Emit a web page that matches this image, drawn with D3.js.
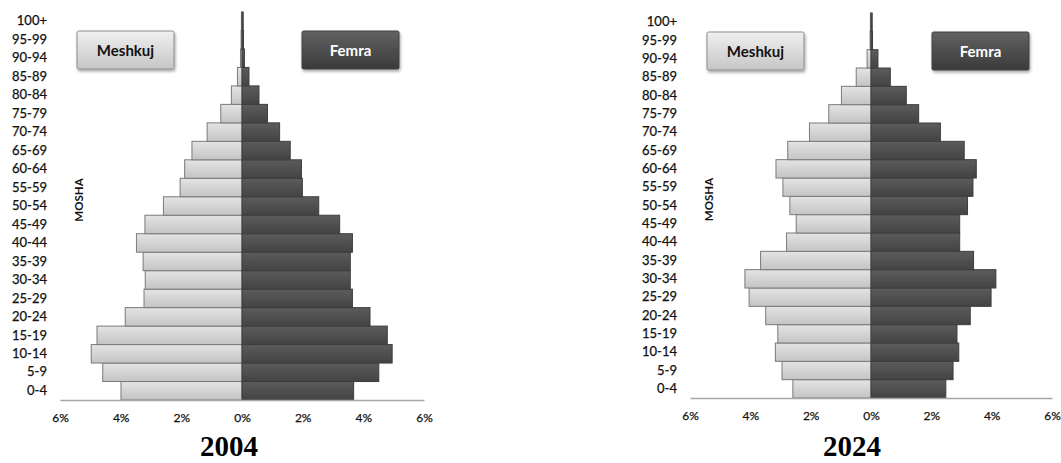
<!DOCTYPE html>
<html>
<head>
<meta charset="utf-8">
<script src="https://cdn.jsdelivr.net/npm/d3@7"></script>
<style>
  body { margin: 0; background: #fff; }
  svg { display: block; }
</style>
</head>
<body>
<script>
// grupmoshat, nga poshte lart
const ageGroups = ["0-4", "5-9", "10-14", "15-19", "20-24", "25-29", "30-34", "35-39",
  "40-44", "45-49", "50-54", "55-59", "60-64", "65-69", "70-74", "75-79",
  "80-84", "85-89", "90-94", "95-99", "100+"];

// perqindje e popullsise
const male2004 = [3.99, 4.59, 4.97, 4.78, 3.85, 3.23, 3.19, 3.26, 3.48, 3.20, 2.59, 2.04,
  1.89, 1.65, 1.15, 0.70, 0.35, 0.15, 0.05, 0.03, 0.02];
const female2004 = [3.68, 4.51, 4.95, 4.79, 4.22, 3.64, 3.57, 3.57, 3.64, 3.22, 2.53, 1.99,
  1.96, 1.59, 1.24, 0.84, 0.56, 0.23, 0.08, 0.05, 0.04];
const male2024 = [2.59, 2.95, 3.17, 3.09, 3.49, 4.04, 4.18, 3.66, 2.80, 2.48, 2.69, 2.92,
  3.15, 2.76, 2.04, 1.40, 0.98, 0.49, 0.13, 0.03, 0.02];
const female2024 = [2.48, 2.72, 2.91, 2.85, 3.29, 3.98, 4.14, 3.40, 2.94, 2.94, 3.20, 3.38,
  3.49, 3.09, 2.30, 1.58, 1.17, 0.64, 0.23, 0.05, 0.04];

const xTicks = [-6, -4, -2, 0, 2, 4, 6];
const years = ["2004", "2024"];
const seriesNames = ["Meshkuj", "Femra"];

const width = 1061;
const height = 463;

const svg = d3.select("body").append("svg")
  .attr("width", width)
  .attr("height", height);

const defs = svg.append("defs");

function vGrad(id, top, bottom) {
  const g = defs.append("linearGradient").attr("id", id)
    .attr("x1", 0).attr("y1", 0).attr("x2", 0).attr("y2", 1);
  g.append("stop").attr("offset", "0%").attr("stop-color", top);
  g.append("stop").attr("offset", "100%").attr("stop-color", bottom);
}
vGrad("gMale", "#e4e4e4", "#c4c4c4");
vGrad("gFemale", "#5c5c5c", "#434343");
vGrad("gMaleBox", "#f0f0f0", "#c6c6c6");
vGrad("gFemaleBox", "#626262", "#3a3a3a");

const shadow = defs.append("filter").attr("id", "shadow")
  .attr("x", "-20%").attr("y", "-20%").attr("width", "140%").attr("height", "160%");
shadow.append("feDropShadow")
  .attr("dx", 1).attr("dy", 2).attr("stdDeviation", 1.5)
  .attr("flood-color", "#000").attr("flood-opacity", 0.35);

const panels = [
  { year: years[0], male: male2004, female: female2004, x0: 60, x1: 424, yBottom: 400, yTop: 12, titleX: 229 },
  { year: years[1], male: male2024, female: female2024, x0: 690, x1: 1052, yBottom: 398, yTop: 13, titleX: 852 }
];

const font = "Lato, 'Open Sans', sans-serif";

panels.forEach(p => {
  const g = svg.append("g");

  const x = d3.scaleLinear().domain([-6, 6]).range([p.x0, p.x1]);
  const y = d3.scaleBand().domain(ageGroups).range([p.yBottom, p.yTop]).padding(0);

  const rows = ageGroups.map((a, i) => ({ age: a, m: p.male[i], f: p.female[i] }));

  // meshkuj
  g.append("g").selectAll("rect")
    .data(rows)
    .join("rect")
    .attr("x", d => x(-d.m))
    .attr("y", d => y(d.age))
    .attr("width", d => x(0) - x(-d.m))
    .attr("height", y.bandwidth())
    .attr("fill", "url(#gMale)")
    .attr("stroke", "#7a7a7a")
    .attr("stroke-width", 1);

  // femra
  g.append("g").selectAll("rect")
    .data(rows)
    .join("rect")
    .attr("x", x(0))
    .attr("y", d => y(d.age))
    .attr("width", d => x(d.f) - x(0))
    .attr("height", y.bandwidth())
    .attr("fill", "url(#gFemale)")
    .attr("stroke", "#3e3e3e")
    .attr("stroke-width", 1);

  // boshti X
  const xAxis = d3.axisBottom(x)
    .tickValues(xTicks)
    .tickSize(0)
    .tickPadding(13)
    .tickFormat(d => Math.abs(d) + "%");
  const ax = g.append("g")
    .attr("transform", `translate(0,${p.yBottom})`)
    .call(xAxis);
  ax.select(".domain").attr("stroke", "#a6a6a6").attr("stroke-width", 1.5);
  ax.selectAll("text")
    .attr("font-family", font)
    .attr("font-size", 12)
    .attr("fill", "#111")
    .attr("stroke", "#111")
    .attr("stroke-width", 0.25);

  // boshti Y
  const yAxis = d3.axisLeft(y).tickSize(0).tickPadding(0);
  const ay = g.append("g")
    .attr("transform", `translate(${p.x0 - 13},0)`)
    .call(yAxis);
  ay.select(".domain").remove();
  ay.selectAll("text")
    .attr("font-family", font)
    .attr("font-size", 13)
    .attr("fill", "#111")
    .attr("stroke", "#111")
    .attr("stroke-width", 0.25);

  // MOSHA
  g.append("text")
    .attr("transform", `translate(${p.x0 + 23},${(p.yTop + p.yBottom) / 2 - 6}) rotate(-90)`)
    .attr("text-anchor", "middle")
    .attr("font-family", font)
    .attr("font-size", 11.5)
    .attr("font-weight", "bold")
    .attr("fill", "#111")
    .text("MOSHA");

  // legjenda
  const boxes = [
    { name: seriesNames[0], bx: p.x0 + 17, fill: "url(#gMaleBox)", stroke: "#8c8c8c", color: "#111" },
    { name: seriesNames[1], bx: p.x0 + 242, fill: "url(#gFemaleBox)", stroke: "#404040", color: "#fff" }
  ];
  const lg = g.selectAll("g.legend")
    .data(boxes)
    .join("g")
    .attr("class", "legend")
    .attr("transform", d => `translate(${d.bx},${p.yTop + 19})`);
  lg.append("rect")
    .attr("width", 97)
    .attr("height", 38)
    .attr("rx", 1.5)
    .attr("fill", d => d.fill)
    .attr("stroke", d => d.stroke)
    .attr("stroke-width", 1)
    .attr("filter", "url(#shadow)");
  lg.append("text")
    .attr("x", 48.5)
    .attr("y", 24.5)
    .attr("text-anchor", "middle")
    .attr("font-family", font)
    .attr("font-size", 15)
    .attr("font-weight", "bold")
    .attr("fill", d => d.color)
    .text(d => d.name);

  // viti
  g.append("text")
    .attr("x", p.titleX)
    .attr("y", 456)
    .attr("text-anchor", "middle")
    .attr("font-family", "'Liberation Serif', 'Times New Roman', serif")
    .attr("font-size", 29)
    .attr("font-weight", "bold")
    .attr("fill", "#000")
    .text(p.year);
});
</script>
</body>
</html>
